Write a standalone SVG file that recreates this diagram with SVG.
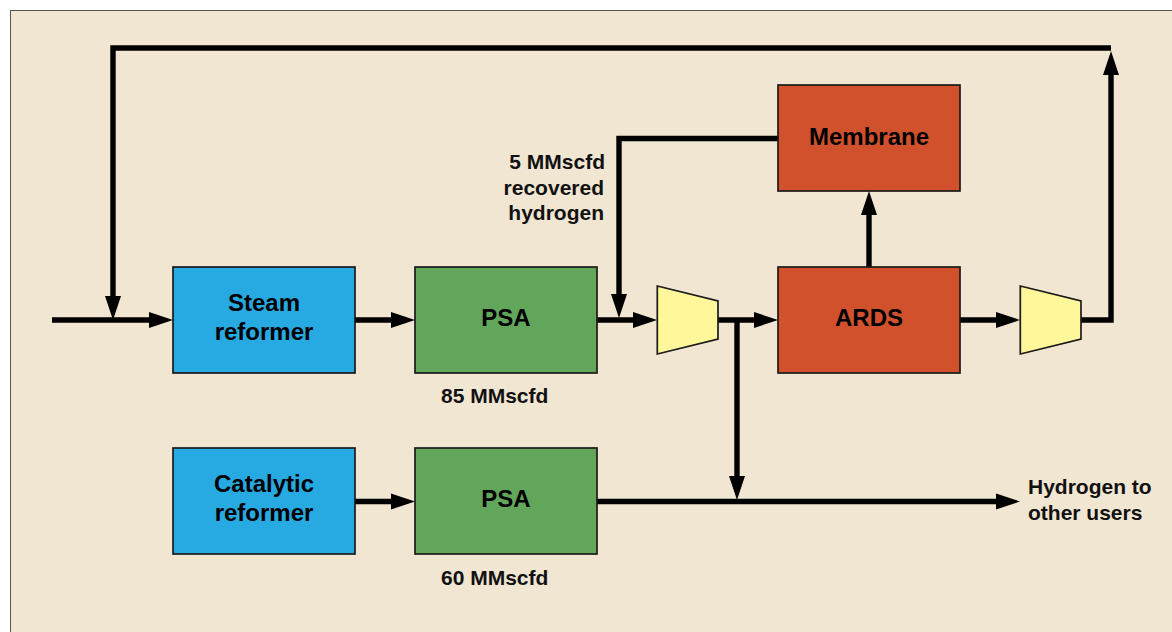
<svg xmlns="http://www.w3.org/2000/svg" width="1172" height="632" viewBox="0 0 1172 632">
<style>
.c{fill:none;stroke:#000;stroke-width:5.4}
.a{fill:#000}
.b{stroke:#1a1a1a;stroke-width:1.7}
.t{font-family:"Liberation Sans",Arial,sans-serif;font-weight:700;font-size:24px;fill:#000;text-anchor:middle}
.s{font-family:"Liberation Sans",Arial,sans-serif;font-weight:700;font-size:21px;fill:#111}
.blue{fill:#27a9e1}.green{fill:#62a65c}.red{fill:#d0512b}.yellow{fill:#fff799}
</style>
<defs><path id="ah" d="M0 0L-24 -8L-24 8Z"/></defs>
<rect width="1172" height="632" fill="#fff"/>
<rect x="10.500" y="10.500" width="1171" height="630" fill="#f1e6d1" stroke="#555" stroke-width="1"/>
<g id="connectors">
<path class="c" d="M52 320H150M355 320H392M597 320H634M718 320H755M960 320H997M1081 320H1111V72M1111 48H113V298M619 298V138.500H778M869 267V215M737 320V476M597 501.500H996M355 501.500H392"/>
<g class="a">
<use href="#ah" transform="translate(173,320)"/>
<use href="#ah" transform="translate(415,320)"/>
<use href="#ah" transform="translate(657,320)"/>
<use href="#ah" transform="translate(778,320)"/>
<use href="#ah" transform="translate(1020,320)"/>
<use href="#ah" transform="translate(1111,51) rotate(-90)"/>
<use href="#ah" transform="translate(113,320) rotate(90)"/>
<use href="#ah" transform="translate(619,318) rotate(90)"/>
<use href="#ah" transform="translate(869,191) rotate(-90)"/>
<use href="#ah" transform="translate(737,500) rotate(90)"/>
<use href="#ah" transform="translate(1020,501.500)"/>
<use href="#ah" transform="translate(415,501.500)"/>
</g>
</g>
<g id="steam"><rect class="b blue" x="173" y="267" width="182" height="106"/><text class="t" x="264" y="311">Steam</text><text class="t" x="264" y="340">reformer</text></g>
<g id="psa1"><rect class="b green" x="415" y="267" width="182" height="106"/><text class="t" x="506" y="326">PSA</text></g>
<g id="comp1"><path class="b yellow" d="M657.300 286L718 301V339L657.300 354Z"/></g>
<g id="ards"><rect class="b red" x="778" y="267" width="182" height="106"/><text class="t" x="869" y="326">ARDS</text></g>
<g id="comp2"><path class="b yellow" d="M1020.300 286L1081 301V339L1020.300 354Z"/></g>
<g id="membrane"><rect class="b red" x="778" y="85" width="182" height="106"/><text class="t" x="869" y="145">Membrane</text></g>
<g id="cat"><rect class="b blue" x="173" y="448" width="182" height="106"/><text class="t" x="264" y="492">Catalytic</text><text class="t" x="264" y="521">reformer</text></g>
<g id="psa2"><rect class="b green" x="415" y="448" width="182" height="106"/><text class="t" x="506" y="507">PSA</text></g>
<g id="labels">
<text class="s" x="605" y="169" text-anchor="end">5 MMscfd</text>
<text class="s" x="604" y="195" text-anchor="end">recovered</text>
<text class="s" x="604" y="220" text-anchor="end">hydrogen</text>
<text class="s" x="441" y="403">85 MMscfd</text>
<text class="s" x="441" y="585">60 MMscfd</text>
<text class="s" x="1028" y="494">Hydrogen to</text>
<text class="s" x="1028" y="520">other users</text>
</g>
</svg>
